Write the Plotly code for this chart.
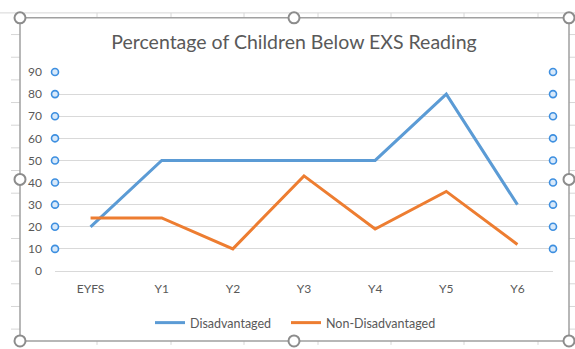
import plotly.graph_objects as go

categories = ["EYFS", "Y1", "Y2", "Y3", "Y4", "Y5", "Y6"]
disadvantaged = [20, 50, 50, 50, 50, 80, 30]
non_disadvantaged = [24, 24, 10, 43, 19, 36, 12]
y_ticks = [0, 10, 20, 30, 40, 50, 60, 70, 80, 90]

W, H = 575, 349
L, R, T, B = 55, 22, 72, 75
PW, PH = W - L - R, H - T - B

def px(x):
    return (x - L) / PW

def py(y):
    return (H - B - y) / PH

FONT = "Lato"
GRAY = "#595959"
BLUE = "#5B9BD5"
ORANGE = "#ED7D31"

fig = go.Figure()
fig.add_trace(go.Scatter(x=categories, y=disadvantaged, mode="lines", name="Disadvantaged",
                         line=dict(color=BLUE, width=3), legend="legend"))
fig.add_trace(go.Scatter(x=categories, y=non_disadvantaged, mode="lines", name="Non-Disadvantaged",
                         line=dict(color=ORANGE, width=3), legend="legend2"))
# gridline selection dots at both ends of each gridline (except 0)
dot_y = y_ticks[1:] + y_ticks[1:]
dot_x = [0] * len(y_ticks[1:]) + [1] * len(y_ticks[1:])
fig.add_trace(go.Scatter(x=dot_x, y=dot_y, xaxis="x2", mode="markers", showlegend=False,
                         hoverinfo="skip", cliponaxis=False,
                         marker=dict(size=7, color="#d8e9fa", line=dict(color="#3d8fe0", width=1.6))))

shapes = []
cell = "#d6d6d6"
# spreadsheet cell lines outside the chart frame
shapes.append(dict(type="line", xref="paper", yref="paper", x0=px(0), x1=px(575), y0=py(12), y1=py(12),
                   line=dict(color=cell, width=1), layer="below"))
for xv in [97, 171, 244, 318, 391, 464, 538]:
    shapes.append(dict(type="line", xref="paper", yref="paper", x0=px(xv), x1=px(xv), y0=py(12), y1=py(17),
                       line=dict(color=cell, width=1), layer="below"))
    shapes.append(dict(type="line", xref="paper", yref="paper", x0=px(xv), x1=px(xv), y0=py(345), y1=py(349),
                       line=dict(color=cell, width=1), layer="below"))
for k in range(14):
    yv = 34 + 23 * k
    shapes.append(dict(type="line", xref="paper", yref="paper", x0=px(11), x1=px(20), y0=py(yv), y1=py(yv),
                       line=dict(color=cell, width=1), layer="below"))
    shapes.append(dict(type="line", xref="paper", yref="paper", x0=px(569), x1=px(575), y0=py(yv), y1=py(yv),
                       line=dict(color=cell, width=1), layer="below"))
# chart frame
shapes.append(dict(type="rect", xref="paper", yref="paper", x0=px(20), x1=px(569), y0=py(17), y1=py(345),
                   line=dict(color="#a0a0a0", width=1.5), fillcolor="rgba(0,0,0,0)", layer="above"))
# selection handles
for hx, hy in [(20, 17), (294, 17), (569, 17), (20, 181), (569, 181), (20, 345), (294, 345), (569, 345)]:
    shapes.append(dict(type="circle", xref="paper", yref="paper", xsizemode="pixel", ysizemode="pixel",
                       xanchor=px(hx), yanchor=py(hy), x0=-5.5, x1=5.5, y0=-5.5, y1=5.5,
                       line=dict(color="#8c8c8c", width=2), fillcolor="white", layer="above"))

legend_common = dict(orientation="h", xref="container", yref="container", xanchor="left",
                     y=1 - 323 / H, yanchor="middle", font=dict(size=12.5, color=GRAY),
                     bgcolor="rgba(0,0,0,0)", itemwidth=30)

fig.update_layout(
    width=W, height=H,
    margin=dict(l=L, r=R, t=T, b=B),
    paper_bgcolor="white", plot_bgcolor="white",
    font=dict(family=FONT, color=GRAY, size=12),
    title=dict(text="Percentage of Children Below EXS Reading", x=294 / W, xanchor="center", xref="container",
               y=1 - 42 / H, yanchor="middle", yref="container",
               font=dict(family=FONT, size=19.5, color=GRAY)),
    xaxis=dict(type="category", range=[-0.5, 6.5], showgrid=False, zeroline=False, showline=False,
               ticks="", ticklabelstandoff=9, tickfont=dict(size=12, color=GRAY), fixedrange=True),
    xaxis2=dict(overlaying="x", range=[0, 1], visible=False, fixedrange=True),
    yaxis=dict(range=[0, 90], tickvals=y_ticks, showgrid=True, gridcolor="#d9d9d9", gridwidth=1,
               zeroline=True, zerolinecolor="#d9d9d9", zerolinewidth=1, showline=False, ticks="",
               ticklabelstandoff=12, tickfont=dict(size=12, color=GRAY)),
    legend=dict(x=150 / W, **legend_common),
    legend2=dict(x=286 / W, **legend_common),
    shapes=shapes,
    showlegend=True,
)

fig.write_html("out.html")
